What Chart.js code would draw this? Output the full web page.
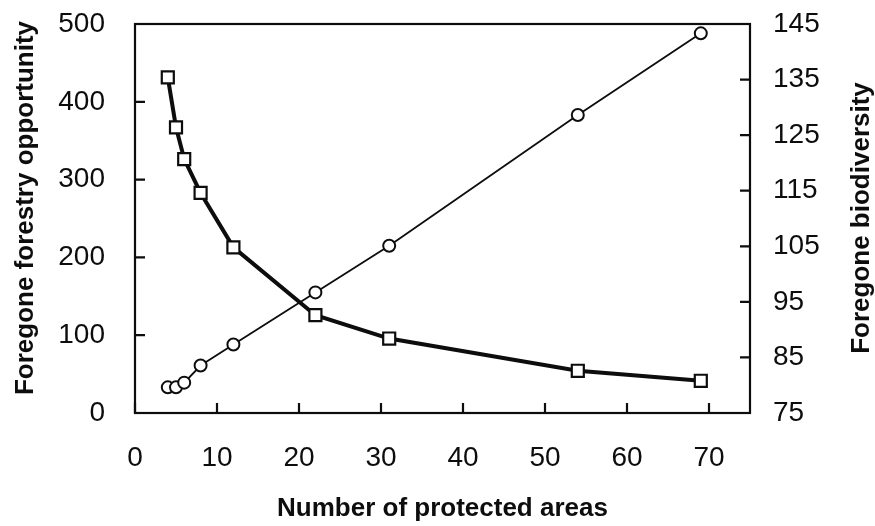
<!DOCTYPE html>
<html>
<head>
<meta charset="utf-8">
<script src="https://cdn.jsdelivr.net/npm/chart.js@4"></script>
<style>
  html, body { margin: 0; padding: 0; background: #fff; }
  #wrap { width: 875px; height: 526px; position: relative; }
</style>
</head>
<body>
<div id="wrap"><canvas id="chart"></canvas></div>
<script>
// data
var areas = [4, 5, 6, 8, 12, 22, 31, 54, 69];
var forestry = [33, 33, 39, 61, 88, 155, 215, 383, 488];            // circles, left axis
var biodiversity = [135.4, 126.4, 120.7, 114.6, 104.8, 92.6, 88.4, 82.6, 80.8]; // squares, right axis

var xTitle = "Number of protected areas";
var leftTitle = "Foregone forestry opportunity";
var rightTitle = "Foregone biodiversity";

var ink = "#0d0d0d";
var tickFont = { family: "Liberation Sans, Arial, sans-serif", size: 28 };
var titleFont = { family: "Liberation Sans, Arial, sans-serif", size: 26, weight: "bold" };

// frame, inward tick marks and both side titles (drawn bottom-to-top)
var framePlugin = {
    id: "frame",
    afterDraw: function(chart) {
        var ctx = chart.ctx;
        var a = chart.chartArea;
        ctx.save();
        ctx.strokeStyle = ink;
        ctx.lineWidth = 2.2;
        ctx.strokeRect(a.left, a.top, a.right - a.left, a.bottom - a.top);

        var len = 10;
        ctx.beginPath();
        chart.scales.x.ticks.forEach(function(t, i) {
            var px = chart.scales.x.getPixelForTick(i);
            ctx.moveTo(px, a.bottom);
            ctx.lineTo(px, a.bottom - len);
        });
        chart.scales.y.ticks.forEach(function(t, i) {
            var py = chart.scales.y.getPixelForTick(i);
            ctx.moveTo(a.left, py);
            ctx.lineTo(a.left + len, py);
        });
        chart.scales.y1.ticks.forEach(function(t, i) {
            var py = chart.scales.y1.getPixelForTick(i);
            ctx.moveTo(a.right, py);
            ctx.lineTo(a.right - len, py);
        });
        ctx.stroke();

        ctx.fillStyle = ink;
        ctx.font = "bold 26px 'Liberation Sans', Arial, sans-serif";
        ctx.textAlign = "center";
        ctx.textBaseline = "middle";
        ctx.save();
        ctx.translate(26, 208);
        ctx.rotate(-Math.PI / 2);
        ctx.fillText(leftTitle, 0, 0);
        ctx.restore();
        ctx.translate(chart.width - 13, 218);
        ctx.rotate(-Math.PI / 2);
        ctx.fillText(rightTitle, 0, 0);
        ctx.restore();
    }
};

function fixVertical(w) {
    return function(s) { s.width = w; s.paddingTop = 0; s.paddingBottom = 0; };
}

var ctx = document.getElementById("chart").getContext("2d");
var chart = new Chart(ctx, {
    type: "line",
    data: {
        labels: areas,
        datasets: [{
            label: "Foregone forestry opportunity",
            data: areas.map(function(x, i) { return { x: x, y: forestry[i] }; }),
            yAxisID: "y",
            borderColor: ink,
            borderWidth: 1.8,
            pointStyle: "circle",
            pointRadius: 6,
            pointBorderWidth: 2,
            pointBackgroundColor: "#fff",
            pointBorderColor: ink,
            tension: 0,
            fill: false
        }, {
            label: "Foregone biodiversity",
            data: areas.map(function(x, i) { return { x: x, y: biodiversity[i] }; }),
            yAxisID: "y1",
            borderColor: ink,
            borderWidth: 4,
            pointStyle: "rect",
            pointRadius: 8.5,
            pointBorderWidth: 2.2,
            pointBackgroundColor: "#fff",
            pointBorderColor: ink,
            tension: 0,
            fill: false
        }]
    },
    options: {
        responsive: true,
        maintainAspectRatio: false,
        animation: false,
        layout: { padding: { top: 24, left: 0, right: 0, bottom: 0 } },
        plugins: {
            legend: { display: false },
            tooltip: { enabled: false }
        },
        scales: {
            x: {
                type: "linear",
                min: 0,
                max: 75,
                afterFit: function(s) { s.height = 113; s.paddingLeft = 0; s.paddingRight = 0; },
                ticks: { stepSize: 10, includeBounds: false, color: ink, font: tickFont, padding: 28, maxRotation: 0 },
                grid: { display: false, drawTicks: false },
                border: { display: false },
                title: { display: true, text: xTitle, color: ink, font: titleFont, padding: { top: 0, bottom: 2 } }
            },
            y: {
                position: "left",
                min: 0,
                max: 500,
                afterFit: fixVertical(135),
                ticks: { stepSize: 100, color: ink, font: tickFont, padding: 30 },
                grid: { display: false, drawTicks: false },
                border: { display: false },
                title: { display: false }
            },
            y1: {
                position: "right",
                min: 75,
                max: 145,
                afterFit: fixVertical(125),
                ticks: { stepSize: 10, color: ink, font: tickFont, padding: 23 },
                grid: { display: false, drawTicks: false },
                border: { display: false },
                title: { display: false }
            }
        }
    },
    plugins: [framePlugin]
});
</script>
</body>
</html>
